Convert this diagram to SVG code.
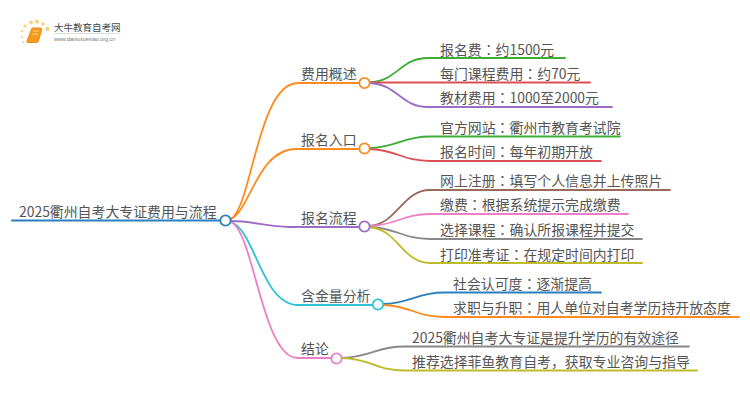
<svg xmlns="http://www.w3.org/2000/svg" width="750" height="410" viewBox="0 0 750 410">
<style>
text{font-family:"Noto Sans CJK SC","Noto Sans",sans-serif;fill:#555;font-size:13.9px}
.q{font-family:"Noto Sans CJK KR",sans-serif}
.c path{fill:none;stroke-width:1.8;stroke-linecap:round}
.n{fill:#fff;stroke-width:1.8}
.b{stroke:#2a7fbf}.o{stroke:#ff8a1f}.p{stroke:#9b6cc4}.t{stroke:#2cc3d8}.k{stroke:#ec7fc6}
.g{stroke:#3cae35}.r{stroke:#dd4f55}.br{stroke:#9a6a5c}.gy{stroke:#888}.y{stroke:#bdbb2a}
</style>
<rect width="750" height="410" fill="#fff"/>
<g id="logo">
<g fill="#fbd27a"><circle cx="25" cy="26" r="1.6"/><circle cx="31" cy="22.500" r="2"/><circle cx="37" cy="21.500" r="2"/><circle cx="43" cy="24" r="1.8"/><circle cx="47.500" cy="29" r="2.200"/><circle cx="22" cy="31" r="1.300"/><circle cx="22" cy="37" r="1.100"/><circle cx="23.500" cy="42" r="1"/></g>
<path d="M32 28H41Q42 28 41.500 30L38.500 41Q38 42.500 36 42.500H28Q26.500 42.500 27 41Z" fill="#f59a1b" stroke="#ee8a1a"/>
<path d="M33 31H39M32 34H38" stroke="#fbd27a" fill="none"/>
<text x="54" y="30.500" style="font-size:9.500px;fill:#444">大牛教育自考网</text>
<path d="M54 33.500H120" stroke="#ddd" fill="none"/>
<text x="54" y="41" style="font-size:5.400px;fill:#777;font-family:'Liberation Sans',sans-serif">www.daniuxuexiao.org.cn</text>
</g>
<g class="c" id="connectors">
<path class="b" d="M12 220.500H225"/>
<path class="o" d="M231 219C252 206 258 83 298 83H364"/>
<path class="o" d="M231 219C250 210 258 149 296 149H364"/>
<path class="p" d="M231 221C255 221 265 227 290 227H364"/>
<path class="t" d="M231 222C255 230 262 305 298 305H378"/>
<path class="k" d="M231 222C254 232 262 358 298 358H337"/>
<path class="g" d="M369 82.500C398 81 400 58 428 58H565"/>
<path class="r" d="M369 82.500H590"/>
<path class="p" d="M369 83C398 84 400 107 428 107H612"/>
<path class="g" d="M369 148C398 147 402 136.500 430 136.500H620"/>
<path class="r" d="M369 149C398 150 402 161 430 161H601"/>
<path class="br" d="M369 226C398 224 402 190 430 190H670"/>
<path class="k" d="M369 226C398 225 402 214 430 214H628"/>
<path class="gy" d="M369 227C398 228 402 239 430 239H642"/>
<path class="y" d="M369 227C398 229 402 263 430 263H642"/>
<path class="b" d="M383 304C412 303 416 292.500 444 292.500H601"/>
<path class="o" d="M383 305C412 306 416 317 444 317H739"/>
<path class="gy" d="M342 358C372 357 376 346.500 404 346.500H689"/>
<path class="y" d="M342 358C372 359 376 370.500 404 370.500H697"/>
</g>
<g id="root"><circle class="n b" cx="225.500" cy="220.500" r="5.200"/><text x="19" y="217">2025衢州自考大专证费用与流程</text></g>
<g id="n1"><circle class="n o" cx="364.500" cy="83" r="5.200"/><text x="301" y="79">费用概述</text></g>
<g id="n2"><circle class="n o" cx="364.500" cy="148.500" r="5.200"/><text x="301" y="145">报名入口</text></g>
<g id="n3"><circle class="n p" cx="364.500" cy="226.500" r="5.200"/><text x="301" y="223">报名流程</text></g>
<g id="n4"><circle class="n t" cx="378" cy="304.500" r="5.200"/><text x="301" y="301">含金量分析</text></g>
<g id="n5"><circle class="n k" cx="336.500" cy="358.500" r="5.200"/><text x="301" y="354">结论</text></g>
<g id="l1"><text x="440" y="55">报名费<tspan class="q">：</tspan>约1500元</text></g>
<g id="l2"><text x="440" y="79">每门课程费用<tspan class="q">：</tspan>约70元</text></g>
<g id="l3"><text x="440" y="103">教材费用<tspan class="q">：</tspan>1000至2000元</text></g>
<g id="l4"><text x="440" y="133">官方网站<tspan class="q">：</tspan>衢州市教育考试院</text></g>
<g id="l5"><text x="440" y="157">报名时间<tspan class="q">：</tspan>每年初期开放</text></g>
<g id="l6"><text x="440" y="186">网上注册<tspan class="q">：</tspan>填写个人信息并上传照片</text></g>
<g id="l7"><text x="440" y="210">缴费<tspan class="q">：</tspan>根据系统提示完成缴费</text></g>
<g id="l8"><text x="440" y="235">选择课程<tspan class="q">：</tspan>确认所报课程并提交</text></g>
<g id="l9"><text x="440" y="260">打印准考证<tspan class="q">：</tspan>在规定时间内打印</text></g>
<g id="l10"><text x="453" y="289">社会认可度<tspan class="q">：</tspan>逐渐提高</text></g>
<g id="l11"><text x="453" y="313">求职与升职<tspan class="q">：</tspan>用人单位对自考学历持开放态度</text></g>
<g id="l12"><text x="412" y="343">2025衢州自考大专证是提升学历的有效途径</text></g>
<g id="l13"><text x="412" y="367">推荐选择菲鱼教育自考<tspan class="q">，</tspan>获取专业咨询与指导</text></g>
</svg>
